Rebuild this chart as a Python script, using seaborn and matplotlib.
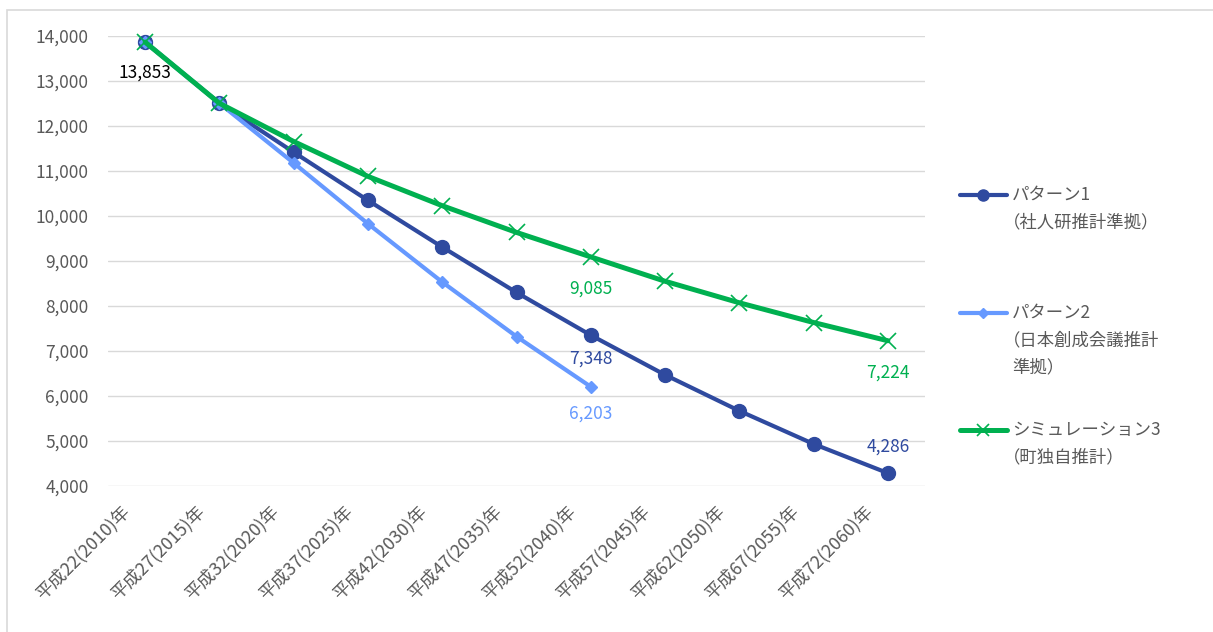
import numpy as np
import pandas as pd
import matplotlib
matplotlib.use("Agg")
import matplotlib.pyplot as plt
import matplotlib.transforms as mtransforms
from matplotlib.lines import Line2D
from matplotlib.patches import Rectangle
from matplotlib.ticker import StrMethodFormatter
import seaborn as sns

# ---- data -------------------------------------------------------------
categories = [
    "平成22(2010)年", "平成27(2015)年", "平成32(2020)年", "平成37(2025)年",
    "平成42(2030)年", "平成47(2035)年", "平成52(2040)年", "平成57(2045)年",
    "平成62(2050)年", "平成67(2055)年", "平成72(2060)年",
]
pattern1 = [13853, 12495, 11410, 10340, 9304, 8296, 7348, 6467, 5668, 4933, 4286]
pattern2 = [13853, 12495, 11170, 9822, 8527, 7318, 6203]
sim3 = [13853, 12495, 11647, 10873, 10222, 9629, 9085, 8545, 8067, 7629, 7224]

series_names = ["パターン1", "パターン2", "シミュレーション3"]
legend_lines = [
    ["パターン1", "（社人研推計準拠）"],
    ["パターン2", "（日本創成会議推計", "準拠）"],
    ["シミュレーション3", "（町独自推計）"],
]
yticks = list(range(4000, 14001, 1000))

# ---- styling ----------------------------------------------------------
sns.set_theme(style="white")
plt.rcParams["font.family"] = ["Noto Sans CJK JP", "DejaVu Sans"]

C_P1 = "#2F4A9F"
C_P2 = "#6699FF"
C_S3 = "#00B050"
GRID = "#D9D9D9"
TXT = "#595959"

W, H = 1213, 632
fig = plt.figure(figsize=(W / 100, H / 100), dpi=100)
fig.patch.set_facecolor("white")

# outer chart frame
fig.add_artist(Rectangle((7 / W, -0.05), 1.2, (H - 10) / H + 0.05,
                         transform=fig.transFigure, fill=False,
                         edgecolor=GRID, linewidth=1.2))

ax = fig.add_axes([108 / W, (H - 486) / H, (925 - 108) / W, (486 - 35.5) / H])

frames = []
for name, vals in zip(series_names, [pattern1, pattern2, sim3]):
    frames.append(pd.DataFrame({"x": np.arange(len(vals)), "value": vals, "series": name}))
df = pd.concat(frames, ignore_index=True)

styles = {
    series_names[0]: dict(color=C_P1, lw=3.0, marker="o", ms=10, mew=1, mec=C_P1, zorder=3),
    series_names[1]: dict(color=C_P2, lw=3.0, marker="D", ms=6, mew=1, mec=C_P2, zorder=4),
    series_names[2]: dict(color=C_S3, lw=3.6, marker="x", ms=11, mew=1.2, mec=C_S3, zorder=5),
}
for name in series_names:
    st = styles[name]
    sns.lineplot(data=df[df["series"] == name], x="x", y="value", ax=ax,
                 color=st["color"], linewidth=st["lw"], marker=st["marker"],
                 markersize=st["ms"], markeredgewidth=st["mew"],
                 markeredgecolor=st["mec"], zorder=st["zorder"],
                 clip_on=False, legend=False, errorbar=None)

ax.set_xlim(-0.5, len(categories) - 0.5)
ax.set_ylim(4000, 14000)
ax.set_yticks(yticks)
ax.yaxis.set_major_formatter(StrMethodFormatter("{x:,.0f}"))
ax.set_xticks(np.arange(len(categories)))
ax.set_xticklabels(categories, rotation=45, ha="right", va="center",
                   rotation_mode="anchor")
ax.set_xlabel("")
ax.set_ylabel("")
ax.grid(axis="y", color=GRID, linewidth=1.0)
ax.grid(axis="x", visible=False)
ax.set_axisbelow(True)
for sp in ax.spines.values():
    sp.set_visible(False)
ax.tick_params(axis="y", length=0, pad=14, labelsize=12.5, labelcolor=TXT)
ax.tick_params(axis="x", length=0, pad=16.5, labelsize=12.8, labelcolor=TXT)
shift = mtransforms.ScaledTranslation(-18 / 100, 0, fig.dpi_scale_trans)
for lab in ax.get_xticklabels():
    lab.set_transform(lab.get_transform() + shift)

# ---- data labels ------------------------------------------------------
labels = [
    (0, pattern1[0], "black", -22),
    (6, sim3[6], C_S3, -23),
    (6, pattern1[6], C_P1, -17),
    (6, pattern2[6], C_P2, -19),
    (10, sim3[10], C_S3, -23),
    (10, pattern1[10], C_P1, 19),
]
for xi, v, col, dy in labels:
    ax.annotate(f"{v:,}", (xi, v), xytext=(0, dy), textcoords="offset points",
                ha="center", va="center", color=col, fontsize=12.5,
                annotation_clip=False)

# ---- legend -----------------------------------------------------------
legend_y = [195, 313, 430]
for name, lines, yl in zip(series_names, legend_lines, legend_y):
    st = styles[name]
    fy = (H - yl) / H
    fig.add_artist(Line2D([960 / W, 1007 / W], [fy, fy], transform=fig.transFigure,
                          color=st["color"], linewidth=st["lw"]))
    fig.add_artist(Line2D([983.5 / W], [fy], transform=fig.transFigure,
                          color=st["color"], marker=st["marker"],
                          markersize=st["ms"] * 0.8, markeredgewidth=st["mew"],
                          markeredgecolor=st["mec"], linestyle="none"))
    for k, line in enumerate(lines):
        # full-width opening brackets carry blank space on their left side
        xl = 1003 if line.startswith("（") else 1012
        fig.text(xl / W, (H - (yl + 27 * k)) / H, line, ha="left", va="center",
                 fontsize=12.5, color=TXT)

fig.savefig("out.png", dpi=100, facecolor="white")
